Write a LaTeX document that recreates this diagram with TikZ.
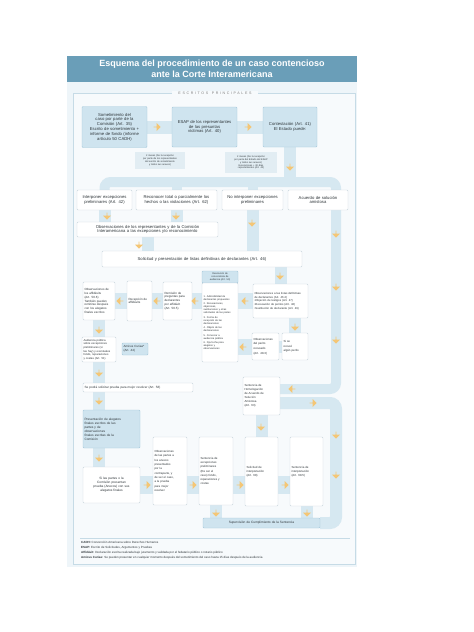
\documentclass[tikz,border=0pt]{standalone}
\usepackage{fontspec}
\setmainfont{Liberation Sans}
\newfontfamily\espaciada[LetterSpace=45]{Liberation Sans}
\usetikzlibrary{shapes.arrows,backgrounds}
\definecolor{titulo}{HTML}{6A9EB8}
\definecolor{fondo}{HTML}{EEF5F9}
\definecolor{interior}{HTML}{F7FAFC}
\definecolor{marco}{HTML}{C6DBE6}
\definecolor{azulcaja}{HTML}{CFE4EF}
\definecolor{bordeazul}{HTML}{A6C9DB}
\definecolor{bordeg}{HTML}{C9D6DD}
\definecolor{banda}{HTML}{D6E8F1}
\definecolor{naranja}{HTML}{F4C676}
\definecolor{texto}{HTML}{2E3539}
\definecolor{notafondo}{HTML}{E2EDF3}
\newcommand\fnormal{\fontsize{4.2}{4.6}\selectfont}
\newcommand\fmedia{\fontsize{3}{3.8}\selectfont}
\newcommand\fmini{\fontsize{2.4}{2.9}\selectfont}
\newcommand\fpie{\fontsize{3}{5}\selectfont}
\tikzset{
	caja/.style 2 args={draw=bordeg,fill=white,rounded corners=1pt,inner sep=1.5pt,text width=#1,minimum height=#2,align=left,text=texto},
	cajaazul/.style 2 args={caja={#1}{#2},draw=bordeazul,fill=azulcaja},
	nota/.style 2 args={fill=notafondo,inner sep=1pt,text width=#1,minimum height=#2,align=center,text=texto,font=\fmini},
	cinta/.style={draw=banda,line width=12pt},
	flecha/.style={single arrow,fill=naranja,draw=none,inner sep=0pt,minimum height=7pt,minimum width=8pt,single arrow head extend=2pt}
}

\begin{document}
\begin{tikzpicture}[x=1pt,y=-1pt,font=\fmedia]
	\useasboundingbox (0,0) rectangle (474,632);
	\begin{scope}[on background layer]
		\fill[white] (0,0) rectangle (474,632);
		\fill[fondo] (67,82) rectangle (357,567);
		\draw[marco,fill=interior] (73,93) rectangle (355,564);
		\draw[marco] (80,538) -- (350,538);
	\end{scope}

	\node[fill=titulo,minimum width=290pt,minimum height=26pt,text=white,align=center,font=\bfseries\fontsize{9}{10.5}\selectfont] (titulo) at (212,69) {Esquema del procedimiento de un caso contencioso\\ante la Corte Interamericana};
	\node[fill=interior,inner xsep=6pt,inner ysep=1pt,text=gray,font=\espaciada\fontsize{3.6}{4}\selectfont] (escritos) at (215,93) {ESCRITOS\quad PRINCIPALES};

	% escritos principales
	\node[cajaazul={62pt}{41pt},align=center,font=\fnormal] (som) at (114.5,127) {Sometimiento del\\caso por parte de la\\Comisión (Art. 35)\\[1pt]Escrito de sometimiento +\\informe de fondo (informe\\artículo 50 CADH)};
	\node[cajaazul={62pt}{40pt},align=center,font=\fnormal] (esap) at (204.5,127) {ESAP de los representantes\\de las presuntas\\víctimas (Art. 40)};
	\node[cajaazul={51pt}{40pt},align=center,font=\fnormal] (cont) at (290,127) {Contestación (Art. 41)\\El Estado puede:};
	\node[nota={48pt}{17pt}] (n1) at (160,160.5) {2 meses (De la recepción\\por parte de los representantes\\del escrito de sometimiento\\y todos sus anexos)};
	\node[nota={50pt}{21pt}] (n2) at (251,162.5) {2 meses (De la recepción\\por parte del Estado del ESAP\\y todos sus anexos)\\Excepciones + 30 días\\representantes (Art. 42)};

	\node[caja={52pt}{20pt},align=center,font=\fnormal] (opA) at (104.5,200) {Interponer excepciones\\preliminares (Art. 42)};
	\node[caja={78pt}{20pt},align=center,font=\fnormal] (opB) at (176.5,200) {Reconocer total o parcialmente los\\hechos o las violaciones (Art. 62)};
	\node[caja={58pt}{20pt},align=center,font=\fnormal] (opC) at (252.5,200) {No interponer excepciones\\preliminares};
	\node[caja={57pt}{20pt},align=center,font=\fnormal] (opD) at (318,200) {Acuerdo de solución\\amistosa};
	\coordinate (canal) at (336,182);

	\node[caja={138pt}{15pt},align=center,font=\fnormal] (obs) at (147.5,229.5) {Observaciones de los representantes y de la Comisión\\Interamericana a las excepciones y/o reconocimiento};
	\node[caja={197pt}{16pt},align=center,font=\fnormal] (sol) at (202,259) {Solicitud y presentación de listas definitivas de declarantes (Art. 46)};

	% declarantes y audiencia
	\node[cajaazul={33pt}{12pt},align=center,font=\fmini] (reshead) at (220,277) {Resolución de\\convocatoria de\\audiencia (Art. 50)};
	\node[caja={33pt}{79pt},font=\fontsize{2.5}{3}\selectfont] (res) at (220,322.5) {1. Admisibilidad de\\declarantes propuestos\\[1.5pt]2. Recusaciones,\\objeciones,\\sustituciones y otras\\solicitudes de las partes\\[1.5pt]3. Forma de\\recepción de las\\declaraciones\\[1.5pt]4. Objeto de las\\declaraciones\\[1.5pt]5. Convocar a\\audiencia pública\\[1.5pt]6. Fija fecha para\\alegatos y\\observaciones};
	\node[caja={29pt}{38pt}] (oaf) at (99,301) {Observaciones de\\los affidávits\\(Art. 50.6)\\También pueden\\remitirse después\\con los alegatos\\finales escritos};
	\node[caja={22pt}{40pt}] (rec) at (139.5,301) {Recepción de\\affidávits};
	\node[caja={26pt}{38pt}] (rem) at (177.5,301) {Remisión de\\preguntas para\\declarantes\\por affidávit\\(Art. 50.5)};
	\node[caja={52pt}{34pt},font=\fontsize{2.8}{3.7}\selectfont] (obsl) at (280.5,301) {Observaciones a las listas definitivas\\de declarantes (Art. 46.2)\\•Objeción de testigos (Art. 47)\\•Recusación de peritos (Art. 48)\\•Sustitución de declarante (Art. 49)};
	\node[caja={24pt}{27pt},font=\fontsize{2.9}{4.6}\selectfont] (per) at (265.5,346.5) {Observaciones\\del perito\\recusado\\(Art. 48.3)};
	\node[caja={23pt}{27pt},font=\fontsize{2.9}{4.6}\selectfont] (sise) at (295,346.5) {Si se\\recusó\\algún perito};
	\node[caja={31pt}{25pt},font=\fontsize{2.8}{3.6}\selectfont] (aud) at (99,349.5) {Audiencia pública\\sobre excepciones\\preliminares (si\\las hay) y eventuales\\fondo, reparaciones\\y costas (Art. 51)};
	\node[cajaazul={23pt}{12pt}] (ami) at (135,349) {Amicus Curiae*\\(Art. 44)};
	\node[caja={107pt}{9pt},font=\fontsize{3.1}{3.6}\selectfont] (spod) at (138,387.5) {Se podrá solicitar prueba para mejor resolver (Art. 58)};
	\node[caja={34pt}{38pt},font=\fontsize{2.9}{4}\selectfont] (hom) at (261.5,396) {Sentencia de\\Homologación\\de Acuerdo de\\Solución\\Amistosa\\(Art. 63)};

	% alegatos y sentencia
	\node[cajaazul={54pt}{38pt},font=\fontsize{3.2}{4}\selectfont] (pal) at (111.5,429) {Presentación de alegatos\\finales escritos de las\\partes y de\\observaciones\\finales escritas de la\\Comisión};
	\node[caja={54pt}{36pt},align=center,font=\fontsize{3.2}{4}\selectfont] (sip) at (111.5,485) {Si las partes o la\\Comisión presentan\\prueba (Anexos) con sus\\alegatos finales};
	\node[caja={31pt}{68pt},font=\fontsize{2.9}{4.3}\selectfont] (opar) at (170,471) {Observaciones\\de las partes a\\los anexos\\presentados\\por la\\contraparte, y\\de ser el caso,\\a la prueba\\para mejor\\resolver};
	\node[caja={31pt}{68pt},font=\fontsize{2.9}{4.1}\selectfont] (sexc) at (216,471) {Sentencia de\\excepciones\\preliminares\\(De ser el\\caso) fondo,\\reparaciones y\\costas};
	\node[caja={30pt}{69pt},font=\fontsize{2.9}{4.1}\selectfont] (sint) at (261.5,471.5) {Solicitud de\\interpretación\\(Art. 68)};
	\node[caja={30pt}{69pt},font=\fontsize{2.9}{4.1}\selectfont] (sentint) at (306.5,471.5) {Sentencia de\\interpretación\\(Art. 68.5)};
	\node[cajaazul={114pt}{10pt},align=center,font=\fontsize{3.2}{3.6}\selectfont] (sup) at (261.5,523) {Supervisión de Cumplimiento de la Sentencia};

	\node[anchor=north west,inner sep=0pt,align=left,text=texto,font=\fpie] (pie) at (81,541) {\textbf{CADH:} Convención Americana sobre Derechos Humanos\\\textbf{ESAP:} Escrito de Solicitudes, Argumentos y Pruebas\\\textbf{Affidávit:} Declaración escrita realizada bajo juramento y validada por el fedatario público o notario público\\\textbf{Amicus Curiae:} Se pueden presentar en cualquier momento después del sometimiento del caso hasta 15 días después de la audiencia};

	\begin{scope}[on background layer]
		\draw[cinta,line width=13pt] (som) -- (esap);
		\draw[cinta,line width=13pt] (esap) -- (cont);
		\draw[cinta] (cont) -- (cont |- canal);
		\draw[cinta,line width=10pt,rounded corners=6pt] (opA.north) |- (canal) |- ([yshift=7pt]hom.east);
		\draw[cinta,line width=10pt] (opB.north) -- (opB.north |- canal);
		\draw[cinta,line width=10pt] (opC.north) -- (opC.north |- canal);
		\draw[cinta] (opA) -- (opA |- obs.north);
		\draw[cinta] (opB) -- (opB |- obs.north);
		\draw[cinta] (opC) -- (opC |- sol.north);
		\draw[cinta] (obs) -- (obs |- sol.north);
		\draw[cinta] (obsl) -- (obsl |- sol.south);
		\draw[cinta,line width=16pt] (obsl) -- (obsl -| res.east);
		\draw[cinta] (sise) -- (sise |- obsl.south);
		\draw[cinta,line width=16pt] (per) -- (per -| res.east);
		\draw[cinta] (per) -- (sise);
		\draw[cinta,line width=16pt] (rem) -- (rem -| res.west);
		\draw[cinta,line width=16pt] (rec) -- (rem);
		\draw[cinta,line width=16pt] (oaf) -- (rec);
		\draw[cinta] (oaf) -- (aud);
		\draw[cinta] (aud) -- (aud |- spod.north);
		\draw[cinta] (aud |- spod.south) -- (aud |- pal.north);
		\draw[cinta] (aud |- pal.south) -- (aud |- sip.north);
		\draw[cinta,line width=18pt] (sip) -- (sip -| sentint.west);
		\draw[cinta] (sexc) -- (sexc |- sup.north);
		\draw[cinta] (sentint) -- (sentint |- sup.north);
		\draw[cinta] (hom) -- (sint);
		\draw[cinta,rounded corners=6pt] ([yshift=-7pt]hom.east) -| (sup.east -| canal) -- (sup.east);
	\end{scope}

	% flechas
	\foreach \x/\y/\g [count=\i] in {157/127/0,248/127/0,147/485/0,193/485/0,240/485/0,285/485/0,313/403/0,
		290/167/270,107/216/270,176/216/270,252/223/270,139/245/270,280/276/270,295/327/270,99/330/270,
		99/373/270,99/401/270,99/458/270,216/513/270,307/513/270,261/427/270,
		336/234/270,336/287/270,336/340/270,336/435/270,336/475/270,
		120/301/180,157/301/180,195/301/180,245/301/180,243/347/180,292/389/180}
		\node[flecha,shape border rotate=\g] (f\i) at (\x,\y) {};
\end{tikzpicture}
\end{document}
